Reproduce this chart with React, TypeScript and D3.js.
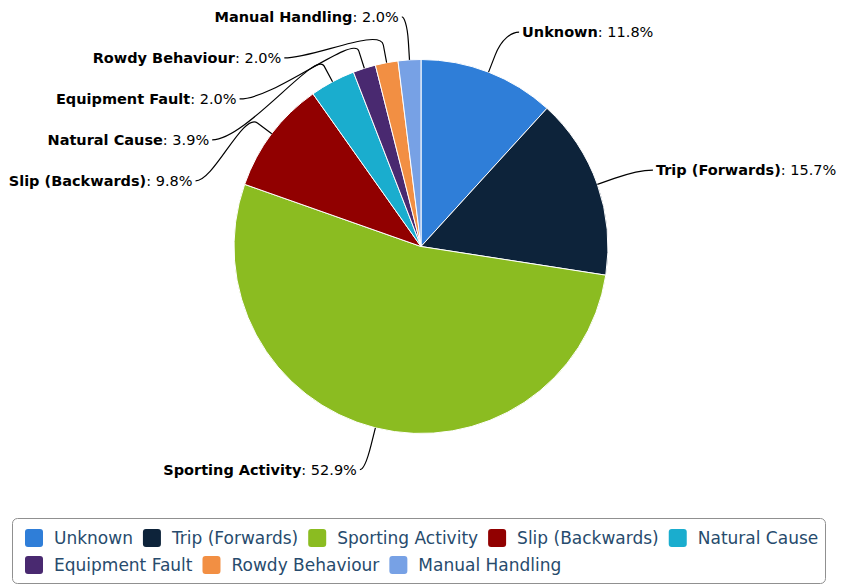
import React, { useEffect, useRef } from "react";
import * as d3 from "d3";

// incident causes (counts out of 51 reports)
const categories = [
  "Unknown",
  "Trip (Forwards)",
  "Sporting Activity",
  "Slip (Backwards)",
  "Natural Cause",
  "Equipment Fault",
  "Rowdy Behaviour",
  "Manual Handling",
];
const counts = [6, 8, 27, 5, 2, 1, 1, 1];
const colors = [
  "#2f7ed8",
  "#0d233a",
  "#8bbc21",
  "#910000",
  "#1aadce",
  "#492970",
  "#f28f43",
  "#77a1e5",
];

type Slice = { name: string; value: number; color: string };

const App: React.FC = () => {
  const ref = useRef<HTMLDivElement>(null);

  useEffect(() => {
    document.body.style.margin = "0";
    const width = 845;
    const height = 586;
    const cx = 421;
    const cy = 246.5;
    const r = 187;
    const labelR = 230;
    const font = "'DejaVu Sans', sans-serif";

    const data: Slice[] = categories.map((name, i) => ({
      name,
      value: counts[i],
      color: colors[i],
    }));
    const total = d3.sum(counts);
    const pct = d3.format(".1f");

    const svg = d3
      .select(ref.current)
      .append("svg")
      .attr("width", width)
      .attr("height", height)
      .style("display", "block")
      .style("font-family", font);

    const pie = d3
      .pie<Slice>()
      .value((d) => d.value)
      .sort(null)
      .startAngle(0)
      .endAngle(2 * Math.PI);
    const arcs = pie(data);
    const arc = d3.arc<d3.PieArcDatum<Slice>>().innerRadius(0).outerRadius(r);

    const g = svg.append("g").attr("transform", `translate(${cx},${cy})`);
    g.selectAll("path.slice")
      .data(arcs)
      .join("path")
      .attr("class", "slice")
      .attr("d", arc)
      .attr("fill", (d) => d.data.color)
      .attr("stroke", "#fff")
      .attr("stroke-width", 1)
      .attr("stroke-linejoin", "round");

    // label layout: ideal y on outer circle, then push down to avoid overlap
    const spacing = 41;
    const labels = arcs.map((a) => {
      const mid = (a.startAngle + a.endAngle) / 2;
      const side = Math.sin(mid) >= 0 ? 1 : -1;
      return {
        a,
        mid,
        side,
        y: -labelR * Math.cos(mid),
      };
    });
    [1, -1].forEach((side) => {
      const group = labels.filter((l) => l.side === side).sort((p, q) => p.y - q.y);
      let prev = -Infinity;
      group.forEach((l) => {
        l.y = Math.max(l.y, prev + spacing);
        prev = l.y;
      });
    });

    labels.forEach((l) => {
      const dx = Math.sqrt(Math.max(0, labelR * labelR - l.y * l.y));
      const tx = l.side * (dx + (l.side > 0 ? 18 : 8));
      const touch = [r * Math.sin(l.mid), -r * Math.cos(l.mid)];
      const brk = [(r + 18) * Math.sin(l.mid), -(r + 18) * Math.cos(l.mid)];
      const sx = tx - l.side * 3;
      const crook = (brk[0] - sx) * 0.3;
      const path = `M${sx},${l.y} C${sx + crook},${l.y} ${2 * brk[0] - touch[0]},${
        2 * brk[1] - touch[1]
      } ${brk[0]},${brk[1]} L${touch[0]},${touch[1]}`;
      g.append("path")
        .attr("d", path)
        .attr("fill", "none")
        .attr("stroke", "#000")
        .attr("stroke-width", 1.2);

      const t = g
        .append("text")
        .attr("x", tx)
        .attr("y", l.y)
        .attr("dy", "0.35em")
        .attr("text-anchor", l.side > 0 ? "start" : "end")
        .attr("font-size", 14.5)
        .attr("fill", "#000");
      t.append("tspan").attr("font-weight", "bold").text(l.a.data.name);
      t.append("tspan").text(`: ${pct((l.a.data.value / total) * 100)}%`);
    });

    // legend
    const legend = svg.append("g");
    legend
      .append("rect")
      .attr("x", 12.5)
      .attr("y", 518.5)
      .attr("width", 813)
      .attr("height", 65)
      .attr("rx", 5)
      .attr("fill", "#fff")
      .attr("stroke", "#909090");

    const rowY = [538, 565];
    const rowBreak = 5;
    let x = 25;
    data.forEach((d, i) => {
      if (i === rowBreak) x = 25;
      const y = rowY[i < rowBreak ? 0 : 1];
      legend
        .append("rect")
        .attr("x", x)
        .attr("y", y - 9)
        .attr("width", 18)
        .attr("height", 18)
        .attr("rx", 3)
        .attr("fill", d.color);
      const t = legend
        .append("text")
        .attr("x", x + 29)
        .attr("y", y)
        .attr("dy", "0.35em")
        .attr("font-size", 17)
        .attr("fill", "#274b6d")
        .text(d.name);
      const w = (t.node() as SVGTextElement).getComputedTextLength();
      x += 29 + w + 10;
    });

    return () => {
      d3.select(ref.current).select("svg").remove();
    };
  }, []);

  return <div ref={ref}></div>;
};

export default App;
